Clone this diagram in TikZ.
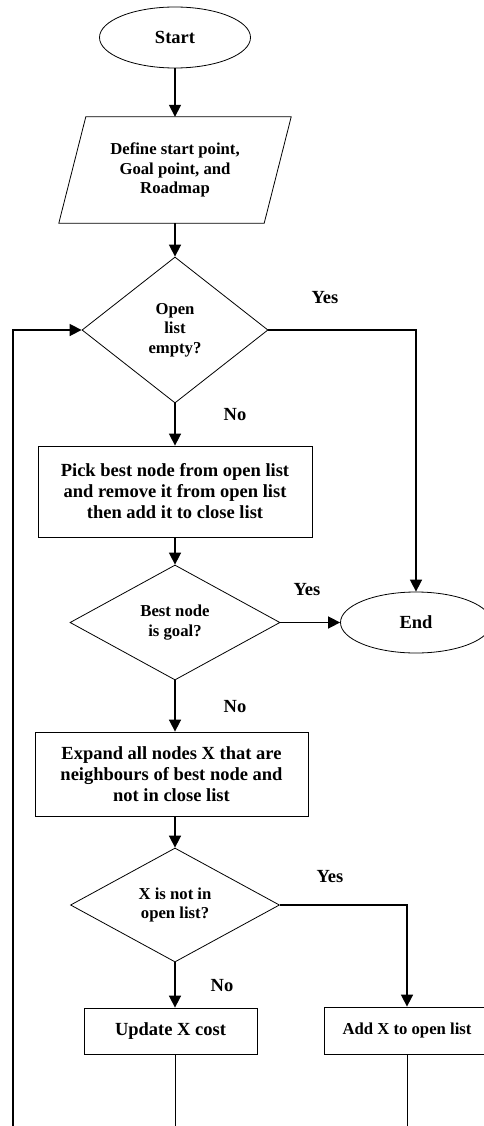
\documentclass[tikz,border=0pt]{standalone}
\usepackage{fontspec}
\setmainfont{Liberation Serif}
\usetikzlibrary{shapes.geometric,arrows.meta}
\begin{document}
\begin{tikzpicture}[x=1pt,y=-1pt,
  base/.style={font=\bfseries\fontsize{18.5}{21}\selectfont, align=center, inner sep=0pt},
  small/.style={font=\bfseries\fontsize{16.7}{19.5}\selectfont},
  terminal/.style={base, ellipse, draw, line width=0.8pt, minimum width=151pt, minimum height=61pt},
  process/.style={base, rectangle, draw, line width=0.8pt},
  decision/.style={base, small, diamond, draw, line width=0.8pt},
  flow/.style={line width=1.6pt, -{Triangle[length=12pt,width=12pt]}},
  plain/.style={line width=0.8pt},
  lbl/.style={base}
]
\useasboundingbox (0,0) rectangle (483,1126);

% main column
\node[terminal] (start) at (175,37.5) {Start};
\node[base, small, minimum width=205pt, minimum height=106pt] (define) at (175,170)
  {Define start point,\\Goal point, and\\Roadmap};
\draw[plain] ([xshift=-13.5pt]define.south west) -- ([xshift=13.5pt]define.north west)
  -- ([xshift=13.5pt]define.north east) -- ([xshift=-13.5pt]define.south east) -- cycle;
\node[decision, minimum width=186pt, minimum height=146pt] (open) at (175,330) {Open\\list\\empty?};
\node[process, minimum width=274pt, minimum height=91pt] (pick) at (175,491.5)
  {Pick best node from open list\\and remove it from open list\\then add it to close list};
\node[decision, minimum width=210pt, minimum height=115pt] (goal) at (175,622.5) {Best node\\is goal?};
\node[terminal] (end) at (416,622.5) {End};
\node[process, minimum width=273pt, minimum height=84pt] (expand) at (171.5,774)
  {Expand all nodes X that are\\neighbours of best node and\\not in close list};
\node[decision, minimum width=209pt, minimum height=114pt] (notin) at (175,905) {X is not in\\open list?};
\node[process, minimum width=173pt, minimum height=46pt] (update) at (170.5,1031) {Update X cost};
\node[process, small, minimum width=166pt, minimum height=47pt] (add) at (407,1030.5) {Add X to open list};

% branch labels
\node[lbl] (yes1) at (325,298) {Yes};
\node[lbl] (no1) at (235,415) {No};
\node[lbl] (yes2) at (307,590) {Yes};
\node[lbl] (no2) at (235,707) {No};
\node[lbl] (yes3) at (330,877) {Yes};
\node[lbl] (no3) at (222,986) {No};

% connectors
\coordinate (loop) at (13,1130);
\draw[flow] (start.south) -- (define.north);
\draw[flow] (define.south) -- (open.north);
\draw[flow] (open.south) -- (pick.north);
\draw[flow] (pick.south) -- (goal.north);
\draw[flow] (goal.east) -- (end.west);
\draw[flow] (open.east) -| (end.north);
\draw[flow] (goal.south) -- (goal.south |- expand.north);
\draw[flow] (goal.south |- expand.south) -- (notin.north);
\draw[flow] (notin.south) -- (notin.south |- update.north);
\draw[flow] (notin.east) -| (add.north);
\draw[flow] (loop) |- (open.west);
\draw[plain] (notin.south |- update.south) -- (notin.south |- loop);
\draw[plain] (add.south) -- (add.south |- loop);
\end{tikzpicture}
\end{document}
